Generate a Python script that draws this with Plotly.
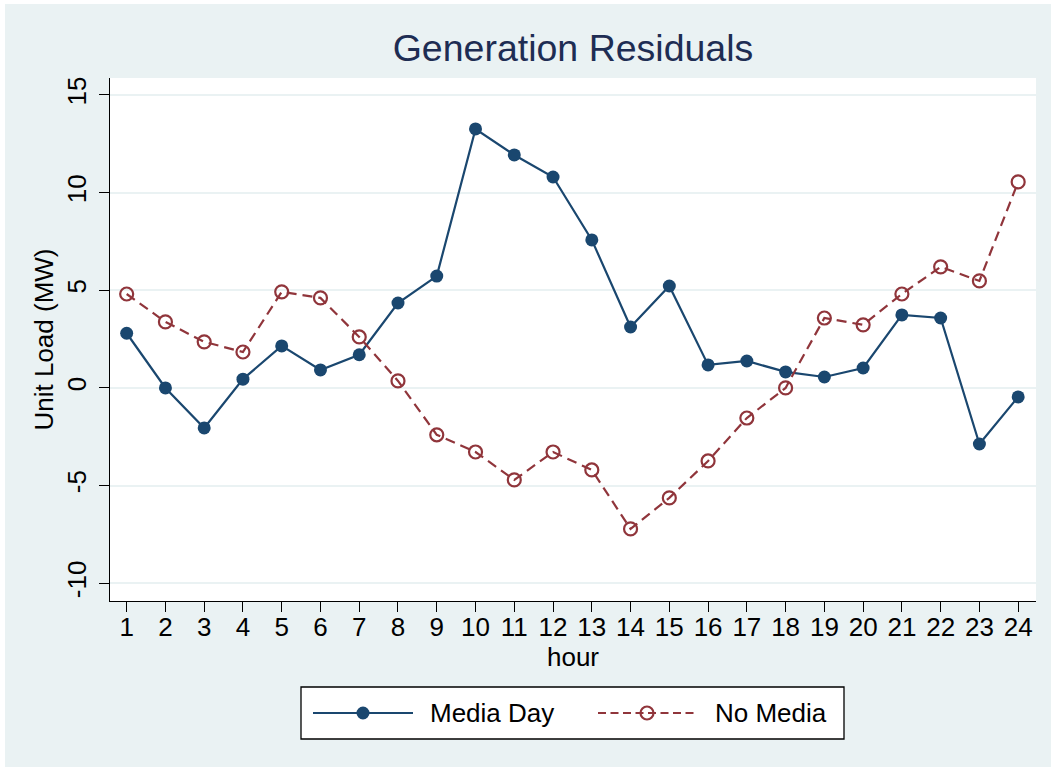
import plotly.graph_objects as go

hours = list(range(1, 25))
media_day = [2.80, 0.00, -2.05, 0.45, 2.15, 0.92, 1.70, 4.35, 5.73, 13.26, 11.93, 10.80,
             7.58, 3.12, 5.22, 1.18, 1.38, 0.82, 0.56, 1.02, 3.74, 3.58, -2.87, -0.46]
no_media = [4.81, 3.38, 2.36, 1.84, 4.92, 4.61, 2.61, 0.36, -2.40, -3.28, -4.71, -3.28,
            -4.20, -7.22, -5.63, -3.74, -1.54, 0.00, 3.58, 3.23, 4.81, 6.20, 5.48, 10.55]
y_ticks = [-10, -5, 0, 5, 10, 15]
series_names = ["Media Day", "No Media"]

NAVY = "#1A476F"
MAROON = "#90353B"
BG = "#EAF2F3"
FONT = "Liberation Sans, Arial, sans-serif"
DASH = "10px,6px"
LEG_DASH = "8px,4.5px"

W, H = 1051, 767
L, T, R, B = 110, 78, 15, 166
pw, ph = W - L - R, H - T - B


def px_x(px):
    return (px - L) / pw


def px_y(py):
    return (H - B - py) / ph


fig = go.Figure()
fig.add_trace(go.Scatter(
    x=hours, y=media_day, name=series_names[0], mode="lines+markers",
    line=dict(color=NAVY, width=2.2),
    marker=dict(symbol="circle", size=13, color=NAVY),
    showlegend=False,
))
fig.add_trace(go.Scatter(
    x=hours, y=no_media, name=series_names[1], mode="lines+markers",
    line=dict(color=MAROON, width=2.2, dash=DASH),
    marker=dict(symbol="circle-open", size=13, color=MAROON, line=dict(width=2.2)),
    showlegend=False,
))

shapes = []
# thin white strip at the top-left edge of the outer panel
shapes.append(dict(type="rect", xref="paper", yref="paper", layer="below",
                   x0=px_x(0), x1=px_x(W), y0=px_y(4), y1=px_y(0),
                   fillcolor="white", line=dict(width=0)))
shapes.append(dict(type="rect", xref="paper", yref="paper", layer="below",
                   x0=px_x(0), x1=px_x(5), y0=px_y(H), y1=px_y(0),
                   fillcolor="white", line=dict(width=0)))
# legend box
shapes.append(dict(type="rect", xref="paper", yref="paper",
                   x0=px_x(301), x1=px_x(844), y0=px_y(739), y1=px_y(687),
                   fillcolor="white", line=dict(color="black", width=1.3)))
leg_y = 713
legend_items = [
    dict(x0=313, x1=413, xm=363, xt=428, color=NAVY, dash="solid", filled=True),
    dict(x0=598, x1=698, xm=647, xt=713, color=MAROON, dash=LEG_DASH, filled=False),
]
annotations = []
for name, it in zip(series_names, legend_items):
    shapes.append(dict(type="line", xref="paper", yref="paper",
                       x0=px_x(it["x0"]), x1=px_x(it["x1"]), y0=px_y(leg_y), y1=px_y(leg_y),
                       line=dict(color=it["color"], width=2.2, dash=it["dash"])))
    shapes.append(dict(type="circle", xref="paper", yref="paper",
                       xsizemode="pixel", ysizemode="pixel",
                       xanchor=px_x(it["xm"]), yanchor=px_y(leg_y),
                       x0=-6.5, x1=6.5, y0=-6.5, y1=6.5,
                       fillcolor=it["color"] if it["filled"] else "rgba(0,0,0,0)",
                       line=dict(color=it["color"], width=0 if it["filled"] else 2.2)))
    annotations.append(dict(text=name, xref="paper", yref="paper",
                            x=px_x(it["xt"]), y=px_y(leg_y), xanchor="left", yanchor="middle",
                            showarrow=False, font=dict(family=FONT, size=26, color="black")))

fig.update_layout(
    width=W, height=H,
    margin=dict(l=L, r=R, t=T, b=B, pad=0, autoexpand=False),
    paper_bgcolor=BG,
    plot_bgcolor="white",
    font=dict(family=FONT, size=26, color="black"),
    title=dict(text="Generation Residuals", x=(L + pw / 2) / W, xanchor="center",
               y=1 - 48 / H, yanchor="middle",
               font=dict(family=FONT, size=37.5, color="#1E2D53")),
    showlegend=False,
    shapes=shapes,
    annotations=annotations,
    xaxis=dict(range=[0.57, 24.46], tickmode="array", tickvals=hours,
               ticktext=[str(h) for h in hours], automargin=False,
               showgrid=False, zeroline=False, showline=True, linecolor="black", linewidth=1.2,
               ticks="outside", ticklen=10, tickcolor="black", tickwidth=1.2,
               ticklabelstandoff=-7,
               title=dict(text="hour", standoff=0, font=dict(size=26)),
               tickfont=dict(size=26)),
    yaxis=dict(range=[-10.91, 15.87], tickmode="array", tickvals=y_ticks,
               ticktext=[str(v) for v in y_ticks], tickangle=-90, automargin=False,
               showgrid=True, gridcolor=BG, gridwidth=1.5, zeroline=False,
               showline=True, linecolor="black", linewidth=1.2,
               ticks="outside", ticklen=10, tickcolor="black", tickwidth=1.2,
               ticklabelstandoff=3,
               title=dict(text="Unit Load (MW)", standoff=0, font=dict(size=26)),
               tickfont=dict(size=26)),
)

fig.write_html("out.html", config=dict(displayModeBar=False),
               post_script="document.body.style.margin='0';document.body.style.padding='0';")
